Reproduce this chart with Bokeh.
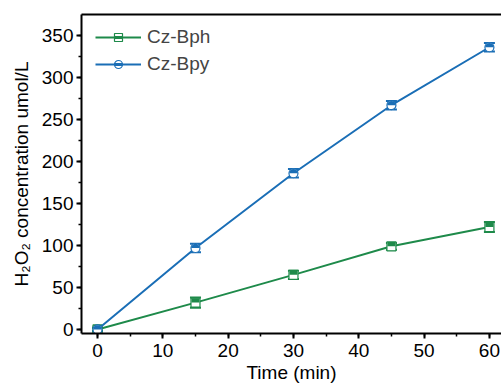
import numpy as np
from bokeh.plotting import figure
from bokeh.models import (ColumnDataSource, Whisker, TeeHead, Legend, LegendItem,
                          LinearAxis, FixedTicker, Range1d)
from bokeh.embed import file_html
from bokeh.resources import INLINE

# H2O2 production over time for the two photocatalysts
time_min = [0, 15, 30, 45, 60]
bph_conc = [0, 32, 65, 99, 122]
bph_err = [2, 6, 5, 4, 6]
bpy_conc = [0, 97, 186, 267, 336]
bpy_err = [2, 5, 5, 5, 5]

x_ticks = [0, 10, 20, 30, 40, 50, 60]
y_ticks = [0, 50, 100, 150, 200, 250, 300, 350]

GREEN = "#1E8A4A"
BLUE = "#1A6EB6"
FONT = "Liberation Sans"

W, H = 501, 387
LEFT, TOP, BOTTOM = 81, 14, 54
Y0, Y1 = -4.8, 375

p = figure(width=W, height=H, output_backend="svg", toolbar_location=None,
           x_range=Range1d(-2.45, 61.85), y_range=Range1d(Y0, Y1),
           min_border_left=LEFT, min_border_right=0, min_border_top=TOP,
           min_border_bottom=BOTTOM, outline_line_color=None)
p.grid.visible = False
p.background_fill_color = "white"
p.border_fill_color = "white"

frame_h = H - TOP - BOTTOM
px_per_unit = frame_h / (Y1 - Y0)
half_px = 2.2 / px_per_unit  # vertical offset of the filled upper half of a square marker

for ax in (p.xaxis[0], p.yaxis[0]):
    ax.axis_line_width = 2
    ax.axis_line_color = "black"
    ax.major_tick_line_width = 2
    ax.minor_tick_line_width = 1.5
    ax.major_tick_out = 5
    ax.major_tick_in = 0
    ax.minor_tick_out = 3
    ax.minor_tick_in = 0
    ax.major_label_text_font = FONT
    ax.major_label_text_font_size = "19px"
    ax.major_label_text_color = "black"
    ax.axis_label_text_font = FONT
    ax.axis_label_text_font_size = "19px"
    ax.axis_label_text_font_style = "normal"
    ax.axis_label_text_color = "black"

p.xaxis.ticker = FixedTicker(ticks=x_ticks, minor_ticks=list(range(0, 61, 5)))
p.yaxis.ticker = FixedTicker(ticks=y_ticks, minor_ticks=list(range(0, 351, 25)))
p.xaxis.axis_label = "Time (min)"
p.yaxis.axis_label = "H₂O₂ concentration umol/L"
p.xaxis.major_label_standoff = 5
p.xaxis.axis_label_standoff = 2
p.yaxis.major_label_standoff = 3
p.yaxis.axis_label_standoff = 7

# top spine only
top_axis = LinearAxis(ticker=FixedTicker(ticks=[]), major_label_text_font_size="0px",
                      axis_line_width=2, axis_line_color="black",
                      major_tick_line_color=None, minor_tick_line_color=None)
p.add_layout(top_axis, "above")

items = []
for name, conc, err, color, shape in (("Cz-Bph", bph_conc, bph_err, GREEN, "square"),
                                      ("Cz-Bpy", bpy_conc, bpy_err, BLUE, "circle")):
    src = ColumnDataSource(dict(
        x=time_min, y=conc,
        upper=[c + e for c, e in zip(conc, err)],
        lower=[c - e for c, e in zip(conc, err)],
        ytop=[c + half_px for c in conc],
    ))
    line = p.line("x", "y", source=src, line_color=color, line_width=2)
    p.add_layout(Whisker(source=src, base="x", upper="upper", lower="lower",
                         line_color=color, line_width=1.5,
                         upper_head=TeeHead(size=11, line_color=color, line_width=2),
                         lower_head=TeeHead(size=11, line_color=color, line_width=2)))
    mk = p.scatter("x", "y", source=src, marker=shape, size=9,
                   fill_color="white", line_color=color, line_width=1.2)
    if shape == "square":
        p.rect("x", "ytop", source=src, width=8, height=4.4, width_units="screen",
               height_units="screen", fill_color=color, line_color=None)
    else:
        p.wedge("x", "y", source=src, radius=4.2, radius_units="screen",
                start_angle=0, end_angle=np.pi, fill_color=color, line_color=None)
    # legend glyph: line + outlined marker with a solid band
    lg_mk = p.scatter(x=[np.nan], y=[np.nan], marker=shape, size=9,
                      fill_color="white", line_color=color, line_width=1.2)
    lg_band = p.scatter(x=[np.nan], y=[np.nan], marker="dash", size=7,
                        line_color=color, line_width=3)
    items.append(LegendItem(label=name, renderers=[line, lg_mk, lg_band]))

legend = Legend(items=items, border_line_color=None,
                background_fill_alpha=0, label_text_font=FONT,
                label_text_font_size="19px", glyph_width=46, glyph_height=20,
                label_standoff=6, spacing=5, margin=0, padding=0,
                location=(14, 258))
p.add_layout(legend, "center")

open("out.html", "w").write(file_html(p, INLINE))
